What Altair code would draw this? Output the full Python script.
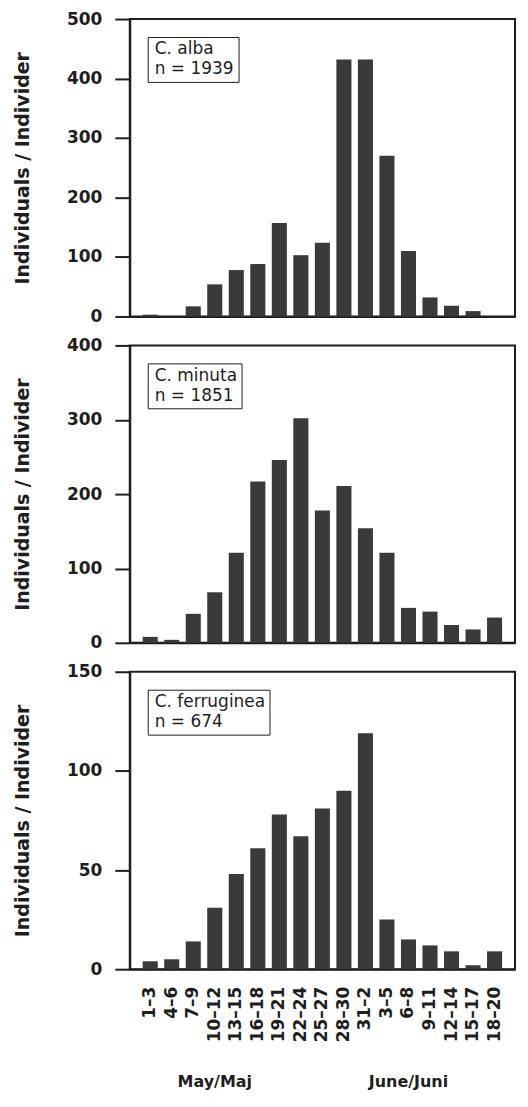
import altair as alt
import pandas as pd

# ---- data ----
periods = ["1–3", "4–6", "7–9", "10–12", "13–15", "16–18", "19–21", "22–24",
           "25–27", "28–30", "31–2", "3–5", "6–8", "9–11", "12–14", "15–17", "18–20"]
alba = [3, 0, 17, 54, 78, 88, 157, 103, 124, 432, 432, 270, 110, 32, 18, 9, 0]
minuta = [8, 4, 39, 68, 121, 217, 246, 302, 178, 211, 154, 121, 47, 42, 24, 18, 34]
ferruginea = [4, 5, 14, 31, 48, 61, 78, 67, 81, 90, 119, 25, 15, 12, 9, 2, 9]
species = ["C. alba", "C. minuta", "C. ferruginea"]
counts = ["n = 1939", "n = 1851", "n = 674"]
y_max = [500, 400, 150]
y_ticks = [[0, 100, 200, 300, 400, 500], [0, 100, 200, 300, 400], [0, 50, 100, 150]]
months = ["May/Maj", "June/Juni"]
month_anchor = ["10–12", "6–8"]

FONT = "DejaVu Sans"
BAR = "#3a3a3a"
INK = "#1e1e1e"
W, H = 386, 298


def panel(vals, sp, n, ymax, ticks, bottom):
    df = pd.DataFrame({"period": periods, "count": vals, "key": sp})
    if bottom:
        x_axis = alt.Axis(title=None, ticks=False, labelAngle=-90, labelPadding=17,
                          labelFont=FONT, labelFontSize=17, labelFontWeight="bold")
    else:
        x_axis = alt.Axis(title=None, ticks=False, labels=False)
    bars = alt.Chart(df).mark_bar().encode(
        x=alt.X("period:N", sort=periods,
                scale=alt.Scale(paddingInner=0.3, paddingOuter=0.6), axis=x_axis),
        y=alt.Y("count:Q", scale=alt.Scale(domain=[0, ymax], nice=False),
                axis=alt.Axis(values=ticks, title="Individuals / Individer",
                              tickSize=15, labelPadding=13,
                              labelFont=FONT, labelFontSize=17, labelFontWeight="bold",
                              titleFont=FONT, titleFontSize=19, titleFontWeight="bold",
                              titlePadding=32, minExtent=65, maxExtent=65)),
        color=alt.Color("key:N",
                        scale=alt.Scale(domain=[sp, n], range=[BAR, BAR]),
                        legend=alt.Legend(title=None, orient="top-left", offset=18,
                                          padding=4, strokeColor=INK, fillColor="white",
                                          labelFont=FONT, labelFontSize=17,
                                          labelColor=INK, labelOffset={"expr": "-14"},
                                          symbolSize=1, symbolOpacity=0,
                                          symbolStrokeWidth=0, rowPadding=2,
                                          labelLimit=300)),
    )
    if bottom:
        mdf = pd.DataFrame({"period": month_anchor, "label": months})
        text = alt.Chart(mdf).mark_text(font=FONT, fontSize=16, fontWeight="bold",
                                        color=INK, baseline="middle").encode(
            x=alt.X("period:N", sort=periods),
            y=alt.value(H + 113),
            text="label:N",
        )
        return alt.layer(bars, text).properties(width=W, height=H)
    return bars.properties(width=W, height=H)


chart = alt.vconcat(
    panel(alba, species[0], counts[0], y_max[0], y_ticks[0], False),
    panel(minuta, species[1], counts[1], y_max[1], y_ticks[1], False),
    panel(ferruginea, species[2], counts[2], y_max[2], y_ticks[2], True),
    spacing=10,
).resolve_scale(color="independent").resolve_legend(color="independent").properties(
    padding={"left": 5, "top": 0, "right": 4, "bottom": 0}
).configure_view(stroke=INK, strokeWidth=2).configure_axis(
    grid=False, domainColor=INK, domainWidth=2, tickColor=INK, tickWidth=2,
    labelColor=INK, titleColor=INK
)

chart.save("out.html", embed_options={"renderer": "svg", "actions": False})
